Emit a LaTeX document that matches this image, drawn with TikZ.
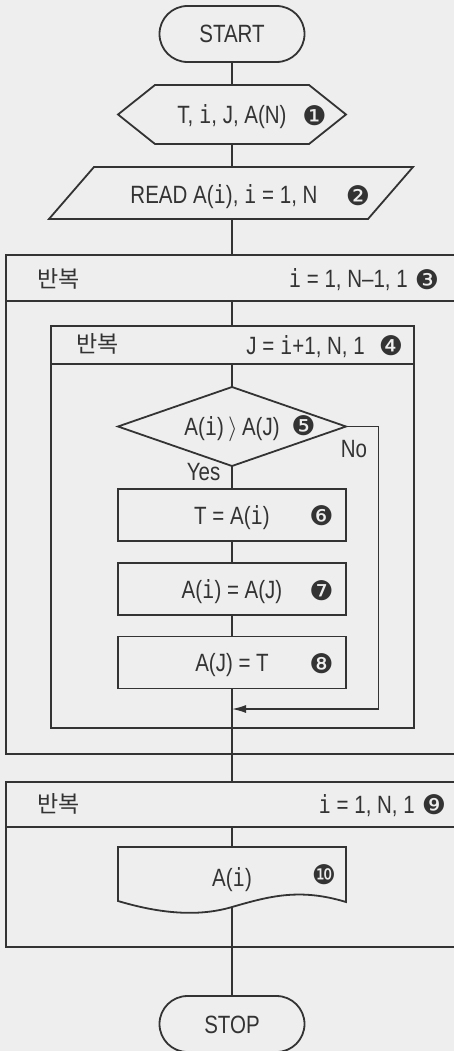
\documentclass[tikz,border=0pt]{standalone}
\usepackage{fontspec}
\setmainfont{Liberation Sans}[FakeStretch=0.82]
\newfontfamily\kofont{Noto Sans CJK KR}
\newfontfamily\monofont{DejaVu Sans Mono}[FakeStretch=0.82]
\newfontfamily\dingfont{DejaVu Sans}
\usetikzlibrary{positioning,calc,arrows.meta}
\definecolor{ink}{HTML}{333333}
\definecolor{paper}{HTML}{EEEEEE}
\newcommand{\vi}{{\monofont i}}
\newcommand{\gt}{{\fontsize{24}{24}\selectfont$\rangle$}}

\begin{document}
\begin{tikzpicture}[
    x=1pt, y=-1pt,
    font=\fontsize{25}{25}\selectfont,
    every node/.style={text=ink},
    term/.style={draw=ink, line width=1.8pt, rounded corners=28pt, minimum width=145pt, minimum height=56pt, inner sep=0pt, text height=18pt, text depth=0pt},
    procbox/.style={draw=ink, line width=1.8pt, minimum width=228pt, minimum height=52pt, inner sep=0pt, text height=18pt, text depth=0pt},
    plain/.style={inner sep=0pt, text height=18pt, text depth=0pt},
    frame/.style={draw=ink, line width=1.8pt, inner sep=0pt},
    outline/.style={draw=ink, line width=1.8pt},
    link/.style={draw=ink, line width=1.4pt},
    arr/.style={link, -{Latex[length=14pt, width=8pt]}},
    num/.style={inner sep=0pt, font=\dingfont\fontsize{27}{27}\selectfont},
    ko/.style={inner sep=0pt, font=\kofont\fontsize{23}{23}\selectfont}
]
    \useasboundingbox (0,0) rectangle (454,1051);
    \clip (0,0) rectangle (454,1051);
    \fill[paper] (0,0) rectangle (454,1051);

    % --- Start, declaration, input ---
    \node[term] (start) at (232,34) {START};
    \node[plain, minimum width=228pt, minimum height=59pt] (decl) at (232,114.5) {T, \vi, J, A(N)};
    \draw[outline] (118,114.5) -- (155,85) -- (309,85) -- (346,114.5) -- (309,144) -- (155,144) -- cycle;
    \node[num] (n1) at (314.5,116) {❶};
    \node[plain, minimum width=319pt, minimum height=52pt] (read) at (232,193) {};
    \draw[outline] (49,219) -- (94,167) -- (413,167) -- (368,219) -- cycle;
    \node[plain] (readtxt) at (224,194) {READ A(\vi), \vi\ = 1, N};
    \node[num] (n2) at (358,196) {❷};

    % --- Outer loop frame ---
    \node[frame, minimum width=464pt, minimum height=46pt] (loopAh) at (238,278) {};
    \node[frame, minimum width=464pt, minimum height=453pt] (loopAb) at (238,527.5) {};
    \node[ko] (koA) at (58.5,279) {반복};
    \node[anchor=base east, inner sep=0pt] (rngA) at (408,287) {\vi\ = 1, N--1, 1};
    \node[num] (n3) at (427,279.5) {❸};

    % --- Inner loop frame ---
    \node[frame, minimum width=363pt, minimum height=38pt] (loopBh) at (232.5,345) {};
    \node[frame, minimum width=363pt, minimum height=364pt] (loopBb) at (232.5,546) {};
    \node[ko] (koB) at (97.5,343.5) {반복};
    \node[anchor=base east, inner sep=0pt] (rngB) at (365,354) {J = \vi+1, N, 1};
    \node[num] (n4) at (391,346) {❹};

    % --- Compare and swap ---
    \node[plain, minimum width=228pt, minimum height=79pt] (cmp) at (232,426.5) {A(\vi)\,\gt\,A(J)\hspace{22pt}};
    \draw[outline] (118,426.5) -- (232,387) -- (346,426.5) -- (232,466) -- cycle;
    \node[num] (n5) at (303.5,426) {❺};
    \node[procbox] (s6) at (232,515) {T = A(\vi)};
    \node[num] (n6) at (321.5,516) {❻};
    \node[procbox] (s7) at (232,589) {A(\vi) = A(J)};
    \node[num] (n7) at (321.5,591) {❼};
    \node[procbox] (s8) at (232,662.5) {A(J) = T};
    \node[num] (n8) at (321.5,664) {❽};
    \coordinate (join) at (232,709);

    % --- Output loop frame ---
    \node[frame, minimum width=464pt, minimum height=45pt] (loopCh) at (238,804.5) {};
    \node[frame, minimum width=464pt, minimum height=120pt] (loopCb) at (238,887) {};
    \node[ko] (koC) at (58.5,804) {반복};
    \node[anchor=base east, inner sep=0pt] (rngC) at (415,813) {\vi\ = 1, N, 1};
    \node[num] (n9) at (434,805) {❾};
    \node[plain, minimum width=228pt, minimum height=60pt] (doc) at (232,877) {A(\vi)};
    \draw[outline] (118,847) -- (346,847) -- (346,902)
        .. controls (300,888) and (270,896) .. (232,907)
        .. controls (195,918) and (155,912) .. (118,901) -- cycle;
    \node[num] (n10) at (324,875) {❿};
    \node[term] (stop) at (232,1024) {STOP};

    % --- Connectors ---
    \draw[link] (start) -- (decl);
    \draw[link] (decl) -- (read);
    \draw[link] (read) -- (loopAh.north -| read);
    \draw[link] (loopAh.south -| start) -- (loopBh.north -| start);
    \draw[link] (loopBh.south -| start) -- (cmp);
    \draw[link] (cmp) -- node[plain, pos=0.25, anchor=east, xshift=-11pt] (yes) {Yes} (s6);
    \draw[link] (s6) -- (s7);
    \draw[link] (s7) -- (s8);
    \draw[link] (s8) -- (loopCh.north -| s8);
    \draw[arr] (cmp.east) -- ++(32,0) |- (join);
    \node[plain] (no) at (354,448) {No};
    \draw[link] (loopCh.south -| start) -- (doc);
    \draw[link] (doc) -- (stop);
\end{tikzpicture}
\end{document}
